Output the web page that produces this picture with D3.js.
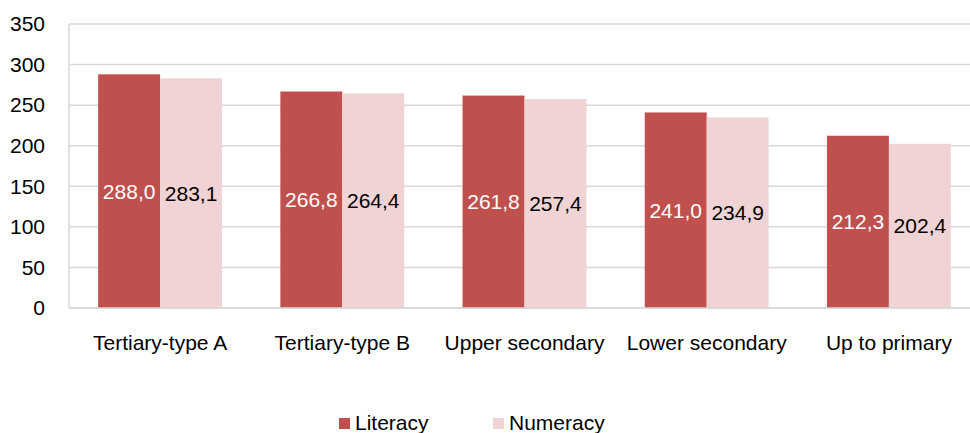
<!DOCTYPE html>
<html><head><meta charset="utf-8">
<script src="https://cdn.jsdelivr.net/npm/d3@7"></script>
<style>body{margin:0;background:#fff;}svg{display:block;font-family:"Liberation Sans",Arial,sans-serif;}</style>
</head><body>
<svg id="c" width="970" height="433"></svg>
<script>
const categories = ["Tertiary-type A","Tertiary-type B","Upper secondary","Lower secondary","Up to primary"];
const seriesNames = ["Literacy","Numeracy"];
const literacy = [288.0,266.8,261.8,241.0,212.3];
const numeracy = [283.1,264.4,257.4,234.9,202.4];
const yTicks = [0,50,100,150,200,250,300,350];
const colors = ["#C0504D","#F0D3D4"];
const labelColors = ["#ffffff","#000000"];
const FS = 21;

const svg = d3.select("#c");
const mLeft = 69, mRight = 980, mTop = 24, mBottom = 308;
const x = d3.scaleBand().domain(categories).range([mLeft,mRight]).paddingInner(0.32).paddingOuter(0.16);
const xs = d3.scaleBand().domain(seriesNames).range([0,x.bandwidth()]);
const y = d3.scaleLinear().domain([0,350]).range([mBottom,mTop]);

// gridlines
svg.append("g").selectAll("line").data(yTicks).join("line")
  .attr("x1",mLeft).attr("x2",970).attr("y1",d=>y(d)).attr("y2",d=>y(d))
  .attr("stroke","#D9D9D9").attr("stroke-width",1.5);
// left axis line
svg.append("line").attr("x1",mLeft).attr("x2",mLeft).attr("y1",mTop).attr("y2",mBottom)
  .attr("stroke","#D9D9D9").attr("stroke-width",1.5);

// y tick labels
const yAxis = d3.axisLeft(y).tickValues(yTicks).tickSize(0).tickPadding(24);
const ga = svg.append("g").attr("transform",`translate(${mLeft},0)`).call(yAxis);
ga.select(".domain").remove();
ga.selectAll("text").attr("font-size",FS).attr("fill","#000").attr("font-family","Liberation Sans, Arial, sans-serif");

const data = categories.map((c,i)=>({c, vals:[literacy[i],numeracy[i]]}));
const groups = svg.append("g").selectAll("g").data(data).join("g")
  .attr("transform",d=>`translate(${x(d.c)},0)`);
groups.selectAll("rect").data(d=>d.vals.map((v,j)=>({v,j}))).join("rect")
  .attr("x",d=>xs(seriesNames[d.j])).attr("width",xs.bandwidth())
  .attr("y",d=>y(d.v)).attr("height",d=>y(0)-y(d.v))
  .attr("fill",d=>colors[d.j]);
groups.selectAll("text").data(d=>d.vals.map((v,j)=>({v,j}))).join("text")
  .attr("x",d=>xs(seriesNames[d.j])+xs.bandwidth()/2)
  .attr("y",d=>(y(d.v)+y(0))/2)
  .attr("dy","0.36em").attr("text-anchor","middle").attr("font-size",FS)
  .attr("fill",d=>labelColors[d.j])
  .text(d=>d.v.toFixed(1).replace(".",","));

// x axis labels
const xAxis = d3.axisBottom(x).tickSize(0).tickPadding(27);
const gx = svg.append("g").attr("transform",`translate(0,${mBottom})`).call(xAxis);
gx.select(".domain").remove();
gx.selectAll("text").attr("font-size",FS).attr("fill","#000").attr("font-family","Liberation Sans, Arial, sans-serif");
// bottom axis line
svg.append("line").attr("x1",mLeft).attr("x2",970).attr("y1",mBottom).attr("y2",mBottom)
  .attr("stroke","#D9D9D9").attr("stroke-width",1.5);

// legend
const legX = [339,493];
const lg = svg.append("g").selectAll("g").data(seriesNames).join("g")
  .attr("transform",(d,i)=>`translate(${legX[i]},418)`);
lg.append("rect").attr("width",11).attr("height",11).attr("fill",(d,i)=>colors[i]);
lg.append("text").attr("x",16).attr("y",11.5).attr("font-size",FS).attr("fill","#000").text(d=>d);
</script>
</body></html>
